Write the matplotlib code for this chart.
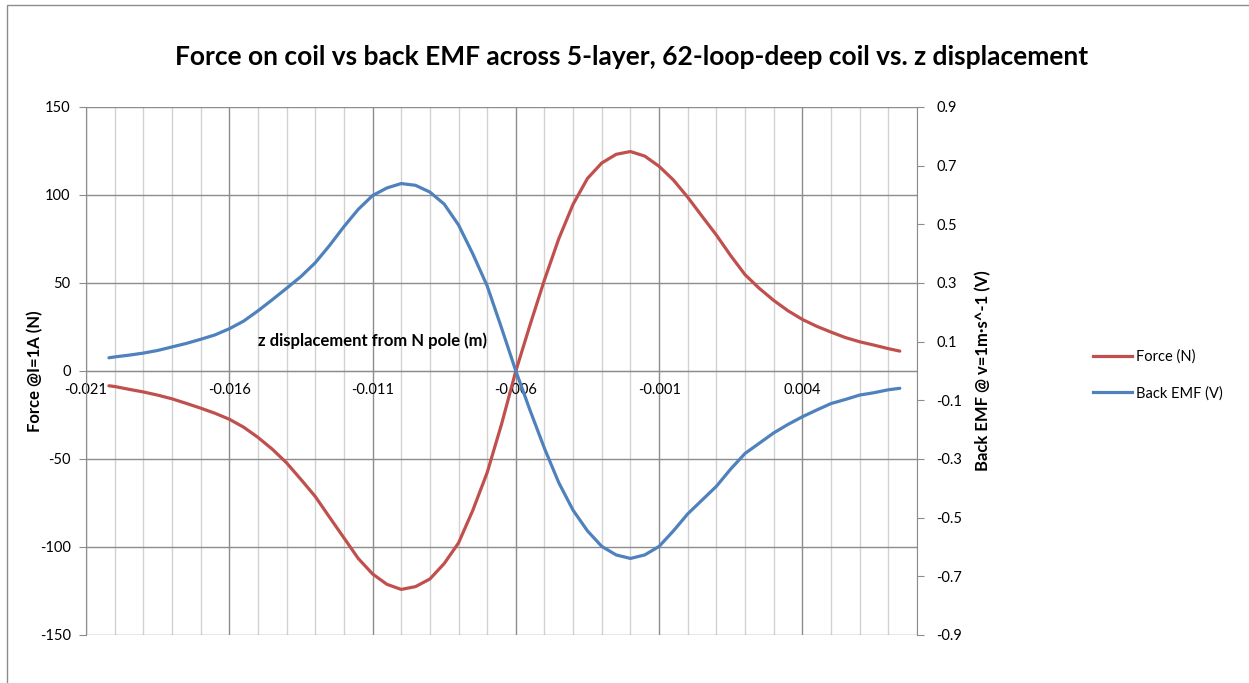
import matplotlib.pyplot as plt
from matplotlib.lines import Line2D
from matplotlib.patches import Rectangle

plt.rcParams["font.family"] = ["Lato", "DejaVu Sans"]
plt.rcParams["axes.unicode_minus"] = False

# z displacement from the N pole (m)
z = [-0.0202, -0.0200, -0.0195, -0.0190, -0.0185, -0.0180, -0.0175, -0.0170,
     -0.0165, -0.0160, -0.0155, -0.0150, -0.0145, -0.0140, -0.0135, -0.0130,
     -0.0125, -0.0120, -0.0115, -0.0110, -0.0105, -0.0100, -0.0095, -0.0090,
     -0.0085, -0.0080, -0.0075, -0.0070, -0.0065, -0.0060, -0.0055, -0.0050,
     -0.0045, -0.0040, -0.0035, -0.0030, -0.0025, -0.0020, -0.0015, -0.0010,
     -0.0005, 0.0000, 0.0005, 0.0010, 0.0015, 0.0020, 0.0025, 0.0030,
     0.0035, 0.0040, 0.0045, 0.0050, 0.0055, 0.0060, 0.0065, 0.0070, 0.0074]

# force on the coil at I = 1 A (N)
force = [-8.4, -8.8, -10.4, -11.9, -13.7, -15.8, -18.4, -21.1,
         -24.0, -27.4, -31.9, -37.7, -44.4, -52.2, -61.6, -71.3,
         -83.1, -94.8, -106.5, -115.3, -121.2, -124.1, -122.5, -118.2,
         -109.4, -97.7, -79.1, -57.7, -30.3, 0.0, 26.4, 51.8,
         75.2, 94.8, 109.4, 118.2, 123.1, 124.7, 122.1, 116.3,
         108.5, 98.7, 87.9, 77.2, 65.5, 54.7, 46.9, 40.1,
         34.2, 29.3, 25.4, 22.1, 19.0, 16.6, 14.7, 12.7, 11.3]

# back EMF at v = 1 m/s (V)
back_emf = [0.045, 0.048, 0.054, 0.061, 0.070, 0.082, 0.094, 0.108,
            0.123, 0.144, 0.170, 0.205, 0.243, 0.282, 0.322, 0.369,
            0.428, 0.492, 0.551, 0.598, 0.624, 0.639, 0.633, 0.610,
            0.569, 0.498, 0.399, 0.290, 0.147, 0.000, -0.135, -0.264,
            -0.381, -0.475, -0.545, -0.598, -0.627, -0.639, -0.627, -0.598,
            -0.545, -0.487, -0.440, -0.393, -0.334, -0.281, -0.246, -0.211,
            -0.182, -0.156, -0.133, -0.111, -0.097, -0.082, -0.074, -0.064, -0.059]

x_ticks = [-0.021, -0.016, -0.011, -0.006, -0.001, 0.004]
x_tick_labels = ["-0.021", "-0.016", "-0.011", "-0.006", "-0.001", "0.004"]
force_ticks = [-150, -100, -50, 0, 50, 100, 150]
force_tick_labels = ["-150", "-100", "-50", "0", "50", "100", "150"]
emf_ticks = [-0.9, -0.7, -0.5, -0.3, -0.1, 0.1, 0.3, 0.5, 0.7, 0.9]
emf_tick_labels = ["-0.9", "-0.7", "-0.5", "-0.3", "-0.1", "0.1", "0.3", "0.5", "0.7", "0.9"]

RED = "#C0504D"
BLUE = "#4F81BD"
GRID = "#8c8c8c"
GRID_MINOR = "#d2d2d2"

W, H = 1249, 683
fig = plt.figure(figsize=(W / 100, H / 100), dpi=100)
ax = fig.add_axes([86 / W, 48 / H, 831 / W, 528 / H])
ax2 = ax.twinx()

ax.set_xlim(-0.021, 0.008)
ax.set_ylim(-150, 150)
ax2.set_ylim(-0.9, 0.9)

# minor gridlines every 0.001 m, skipping the labelled positions
minor_x = [round(-0.021 + 0.001 * i, 3) for i in range(30)]
minor_x = [v for v in minor_x if all(abs(v - t) > 1e-9 for t in x_ticks)]
ax.set_xticks(x_ticks)
ax.set_xticklabels(x_tick_labels)
ax.set_xticks(minor_x, minor=True)
ax.set_yticks(force_ticks)
ax.set_yticklabels(force_tick_labels)
ax2.set_yticks(emf_ticks)
ax2.set_yticklabels(emf_tick_labels)

ax.set_axisbelow(True)
ax.grid(which="major", axis="both", color=GRID, lw=1.0)
ax.grid(which="minor", axis="x", color=GRID_MINOR, lw=1.0)

ax.plot(z, force, color=RED, lw=2.3, solid_capstyle="round")
ax2.plot(z, back_emf, color=BLUE, lw=2.3, solid_capstyle="round")

for side in ["top", "right"]:
    ax.spines[side].set_visible(False)
ax.spines["bottom"].set_position(("data", 0))
ax.spines["bottom"].set_color(GRID)
ax.spines["left"].set_color(GRID)
for side in ["top", "left", "bottom"]:
    ax2.spines[side].set_visible(False)
ax2.spines["right"].set_color(GRID)

ax.tick_params(axis="x", which="both", length=0, pad=9, labelsize=10.5)
ax.tick_params(axis="y", length=5, color=GRID, pad=6, labelsize=10.5)
ax2.tick_params(axis="y", length=5, color=GRID, pad=9, labelsize=10.5)

fig.text(632 / W, 1 - 57 / H,
         "Force on coil vs back EMF across 5-layer, 62-loop-deep coil vs. z displacement",
         ha="center", va="center", fontsize=19, fontweight="bold")
fig.text(373 / W, 1 - 341 / H, "z displacement from N pole (m)",
         ha="center", va="center", fontsize=12, fontweight="bold")
fig.text(35 / W, 1 - 371 / H, "Force @I=1A (N)", rotation=90,
         ha="center", va="center", fontsize=12, fontweight="bold")
fig.text(983 / W, 1 - 371 / H, "Back EMF @ v=1m\u00b7s^-1 (V)", rotation=90,
         ha="center", va="center", fontsize=12, fontweight="bold")

handles = [Line2D([], [], color=RED, lw=2.3), Line2D([], [], color=BLUE, lw=2.3)]
fig.legend(handles, ["Force (N)", "Back EMF (V)"], loc="center left",
           bbox_to_anchor=(1093 / W, 1 - 375 / H), frameon=False, fontsize=10.5,
           handlelength=2.7, handletextpad=0.25, labelspacing=1.5,
           borderpad=0, borderaxespad=0)

# chart area border
fig.add_artist(Rectangle((7 / W, -0.1), 1.2, 1.1 - 5 / H, transform=fig.transFigure,
                         fill=False, edgecolor=GRID, lw=1.0))

fig.savefig("out.png", dpi=100)
plt.close(fig)
